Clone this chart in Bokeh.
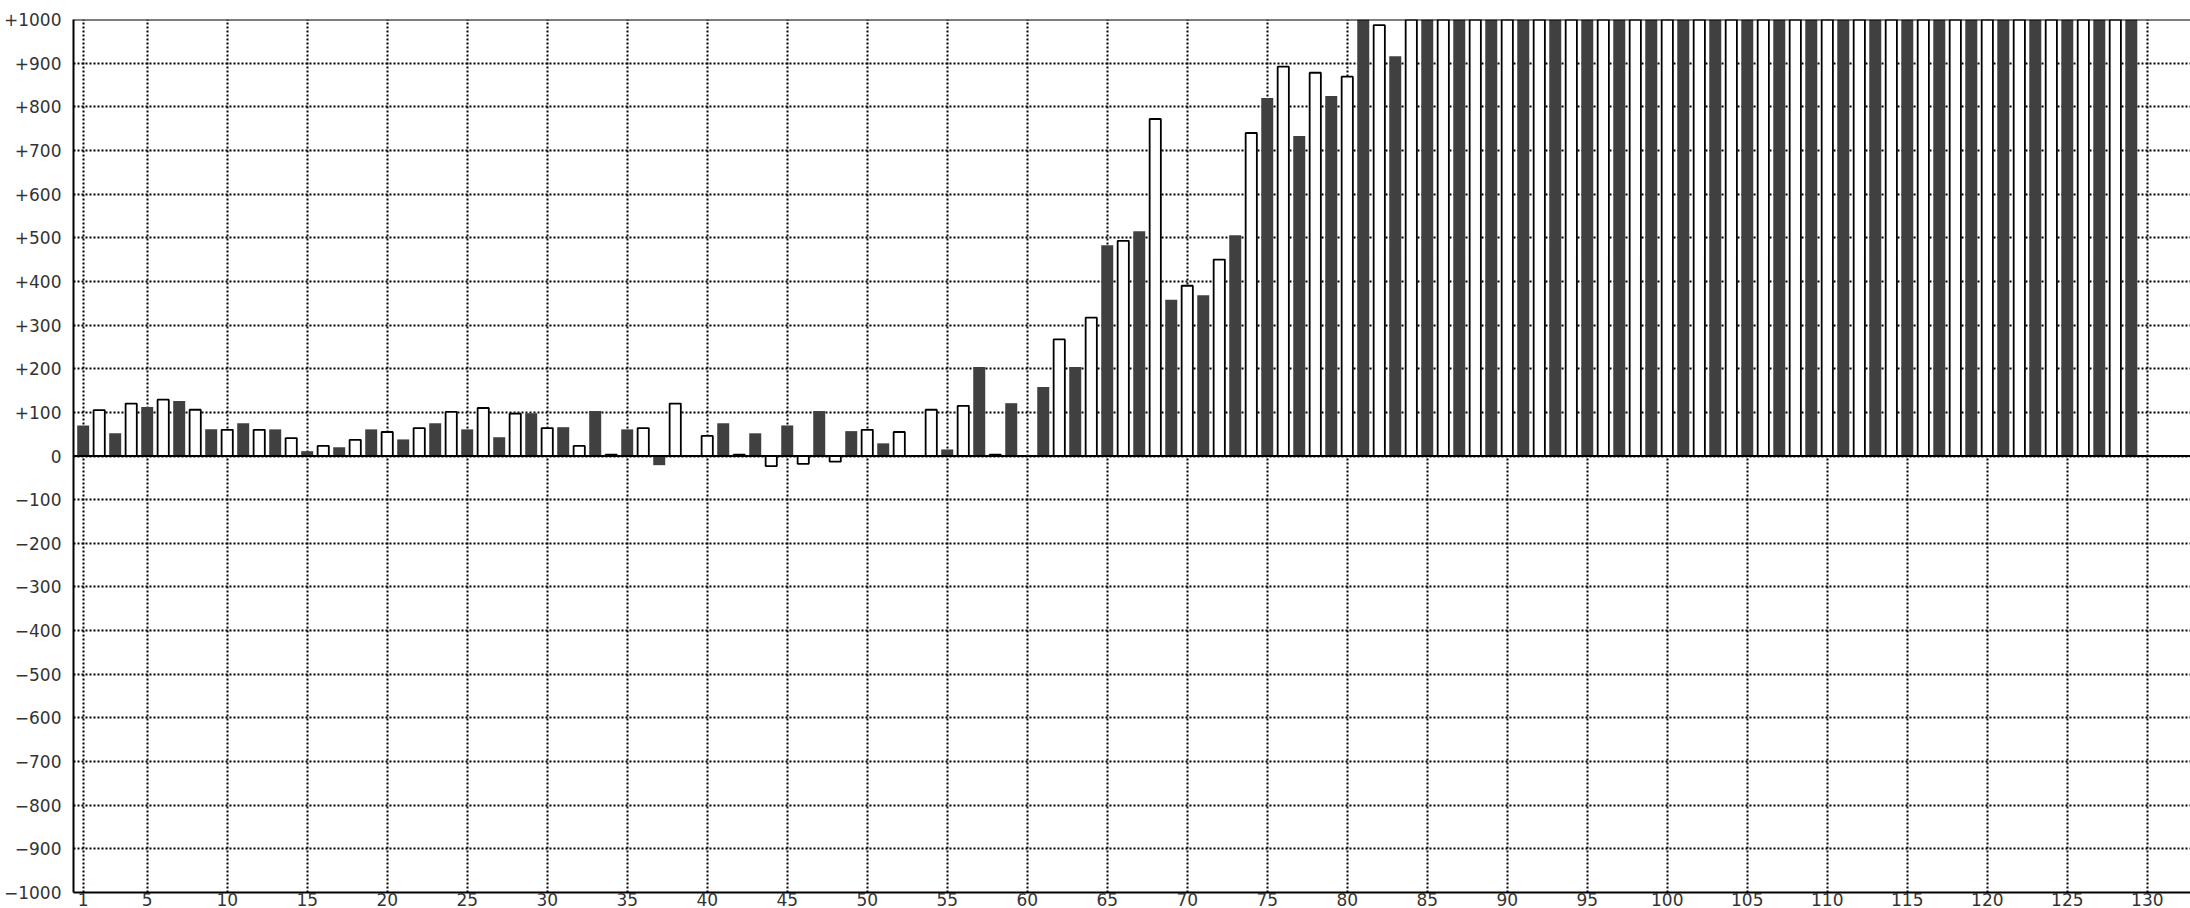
from bokeh.plotting import figure
from bokeh.models import Range1d, Grid, FixedTicker, Span, LinearAxis
from bokeh.embed import file_html
from bokeh.resources import INLINE

# ---- data ----
days = list(range(1, 130))
values = [70, 105, 52, 120, 112, 129, 126, 106, 61, 60,
          75, 60, 61, 41, 11, 23, 20, 37, 61, 55,
          38, 64, 75, 101, 61, 110, 43, 97, 98, 64,
          66, 23, 103, 3, 61, 64, -21, 120, 0, 46,
          75, 3, 52, -23, 70, -18, 103, -13, 57, 60,
          29, 55, 0, 106, 15, 115, 204, 3, 121, 0,
          158, 267, 204, 317, 483, 493, 515, 772, 358, 390,
          368, 450, 506, 740, 820, 892, 733, 878, 825, 869,
          1000, 987, 916, 1000, 1000, 1000, 1000, 1000, 1000, 1000,
          1000, 1000, 1000, 1000, 1000, 1000, 1000, 1000, 1000, 1000,
          1000, 1000, 1000, 1000, 1000, 1000, 1000, 1000, 1000, 1000,
          1000, 1000, 1000, 1000, 1000, 1000, 1000, 1000, 1000, 1000,
          1000, 1000, 1000, 1000, 1000, 1000, 1000, 1000, 1000]
x_ticks = [1, 5, 10, 15, 20, 25, 30, 35, 40, 45, 50, 55, 60, 65,
           70, 75, 80, 85, 90, 95, 100, 105, 110, 115, 120, 125, 130]
y_ticks = [-1000, -900, -800, -700, -600, -500, -400, -300, -200, -100, 0,
           100, 200, 300, 400, 500, 600, 700, 800, 900, 1000]

dark_x = [d for d in days if d % 2 == 1]
dark_v = [v for d, v in zip(days, values) if d % 2 == 1]
white_x = [d for d in days if d % 2 == 0]
white_v = [v for d, v in zip(days, values) if d % 2 == 0]

X0, X1 = 0.394, 132.7
FONT = "DejaVu Sans"
FS = "17px"
TXT = "#333333"


def fmt(v):
    if v > 0:
        return "+%d" % v
    if v < 0:
        return "\u2212%d" % (-v)
    return "0"


p = figure(width=2190, height=908, x_range=Range1d(X0, X1), y_range=Range1d(-1000, 1000),
           x_axis_type=None, y_axis_type=None, output_backend="svg", toolbar_location=None,
           min_border_left=73, min_border_right=0, min_border_top=19, min_border_bottom=0)
p.outline_line_color = None
p.background_fill_color = "white"
p.border_fill_color = "white"

xaxis = LinearAxis(ticker=FixedTicker(ticks=x_ticks))
yaxis = LinearAxis(ticker=FixedTicker(ticks=y_ticks),
                   major_label_overrides={v: fmt(v) for v in y_ticks})
for ax in (xaxis, yaxis):
    ax.major_tick_in = 0
    ax.major_tick_out = 0
    ax.minor_tick_in = 0
    ax.minor_tick_out = 0
    ax.axis_line_color = "black"
    ax.axis_line_width = 2
    ax.major_label_text_font = FONT
    ax.major_label_text_font_size = FS
    ax.major_label_text_color = TXT
xaxis.major_label_standoff = 0
yaxis.major_label_standoff = 12
p.add_layout(xaxis, "below")
p.add_layout(yaxis, "left")

p.add_layout(Grid(dimension=0, ticker=FixedTicker(ticks=x_ticks), grid_line_color="black",
                  grid_line_dash="2 2", grid_line_width=2))
p.add_layout(Grid(dimension=1, ticker=FixedTicker(ticks=y_ticks), grid_line_color="black",
                  grid_line_dash="2 2", grid_line_width=2))

p.vbar(x=dark_x, top=dark_v, bottom=0, width=0.75, fill_color="#404040", line_color=None)
p.vbar(x=white_x, top=white_v, bottom=0, width=0.7, fill_color="white",
       line_color="black", line_width=1.8)

for loc in (0, 1000):
    p.add_layout(Span(location=loc, dimension="width", line_color="black", line_width=2))

open("out.html", "w").write(file_html(p, INLINE))
